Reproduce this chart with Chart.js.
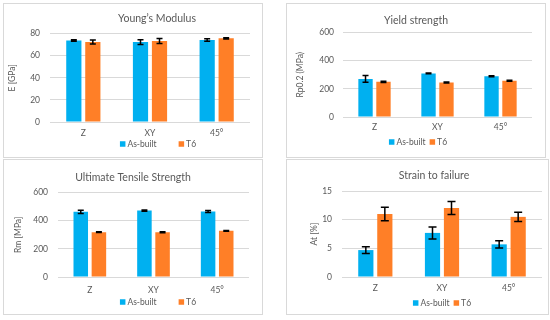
<!DOCTYPE html>
<html>
<head>
<meta charset="utf-8">
<script src="https://cdn.jsdelivr.net/npm/chart.js@4.4.1/dist/chart.umd.min.js"></script>
<style>
  body { margin: 0; background: #fff; }
  .panel { position: absolute; border: 1px solid #d9d9d9; box-sizing: border-box; background: #fff; }
  .panel canvas { display: block; }
</style>
</head>
<body>
<div class="panel" style="left:3px;top:3px;width:260px;height:155px"><canvas id="c1"></canvas></div>
<div class="panel" style="left:286px;top:3px;width:260px;height:155px"><canvas id="c2"></canvas></div>
<div class="panel" style="left:3px;top:159px;width:260px;height:156px"><canvas id="c3"></canvas></div>
<div class="panel" style="left:286px;top:159px;width:263px;height:156px"><canvas id="c4"></canvas></div>
<script>
const categories = ['Z', 'XY', '45°'];
const seriesNames = ['As-built', 'T6'];

// Young's modulus [GPa]
const modulusAsBuilt = [73.7, 72.3, 74.2];
const modulusAsBuiltErr = [0.7, 2.2, 1.2];
const modulusT6 = [72.4, 73.3, 75.7];
const modulusT6Err = [1.8, 2.3, 0.5];
const modulusTicks = [0, 20, 40, 60, 80];

// Yield strength Rp0.2 [MPa]
const yieldAsBuilt = [271, 310, 290];
const yieldAsBuiltErr = [24, 3, 3];
const yieldT6 = [250, 245, 258];
const yieldT6Err = [4, 4, 3];
const yieldTicks = [0, 200, 400, 600];

// Ultimate tensile strength Rm [MPa]
const utsAsBuilt = [463, 472, 465];
const utsAsBuiltErr = [12, 4, 7];
const utsT6 = [319, 318, 328];
const utsT6Err = [3, 3, 3];
const utsTicks = [0, 200, 400, 600];

// Strain to failure At [%]
const strainAsBuilt = [4.7, 7.7, 5.7];
const strainAsBuiltErr = [0.6, 1.05, 0.63];
const strainT6 = [11.0, 12.05, 10.5];
const strainT6Err = [1.17, 1.14, 0.82];
const strainTicks = [0, 5, 10, 15];

const BLUE = '#00b0f0';
const ORANGE = '#ff7f27';
const GRAY = '#595959';
const FONT = 'Lato, "Open Sans", sans-serif';

const errorBars = {
  id: 'errorBars',
  afterDatasetsDraw(chart, args, opts) {
    const ctx = chart.ctx;
    const y = chart.scales.y;
    ctx.save();
    ctx.strokeStyle = '#000';
    ctx.lineWidth = 1.5;
    chart.data.datasets.forEach((ds, i) => {
      const meta = chart.getDatasetMeta(i);
      meta.data.forEach((bar, j) => {
        const v = ds.data[j], e = ds.errors[j];
        const top = y.getPixelForValue(v + e);
        const bot = y.getPixelForValue(v - e);
        const w = opts.cap / 2;
        ctx.beginPath();
        ctx.moveTo(bar.x, top); ctx.lineTo(bar.x, bot);
        ctx.moveTo(bar.x - w, top); ctx.lineTo(bar.x + w, top);
        ctx.moveTo(bar.x - w, bot); ctx.lineTo(bar.x + w, bot);
        ctx.stroke();
      });
    });
    ctx.restore();
  }
};

// the title in the picture is not always centred on the panel
const titleCentre = {
  id: 'titleCentre',
  afterLayout(chart, args, opts) {
    const t = chart.titleBlock;
    t.left = opts.cx - 100;
    t.right = opts.cx + 100;
  }
};

// simple legend so the item spacing can follow the picture
const boxLegend = {
  id: 'boxLegend',
  afterDraw(chart, args, opts) {
    const ctx = chart.ctx;
    ctx.save();
    ctx.font = opts.size + 'px ' + FONT;
    ctx.textBaseline = 'middle';
    const items = chart.data.datasets.map(ds => ({ text: ds.label, color: ds.backgroundColor, w: ctx.measureText(ds.label).width }));
    let total = 0;
    items.forEach((it, i) => { total += opts.box + 2 + it.w + (i ? opts.gap : 0); });
    let x = opts.x - total / 2;
    items.forEach(it => {
      ctx.fillStyle = it.color;
      ctx.fillRect(x, opts.y - opts.box / 2, opts.box, opts.box);
      x += opts.box + 2;
      ctx.fillStyle = GRAY;
      ctx.fillText(it.text, x, opts.y + 0.5);
      x += it.w + opts.gap;
    });
    ctx.restore();
  }
};

function makeChart(id, title, yTitle, asBuilt, asBuiltErr, t6, t6Err, ticks, lay) {
  return new Chart(document.getElementById(id), {
    type: 'bar',
    data: {
      labels: categories,
      datasets: [
        { label: seriesNames[0], data: asBuilt, errors: asBuiltErr, backgroundColor: BLUE },
        { label: seriesNames[1], data: t6, errors: t6Err, backgroundColor: ORANGE }
      ]
    },
    options: {
      responsive: true,
      maintainAspectRatio: false,
      animation: false,
      categoryPercentage: 0.57,
      barPercentage: 0.8,
      layout: { padding: { left: 0, right: lay.padRight, top: 0, bottom: lay.padBottom } },
      plugins: {
        legend: { display: false },
        tooltip: { enabled: false },
        title: {
          display: true, text: title, color: GRAY,
          font: { family: FONT, size: 10.5, weight: 'normal' },
          padding: { top: lay.titleTop, bottom: lay.titleBottom }
        },
        titleCentre: { cx: lay.titleX },
        errorBars: { cap: lay.cap },
        boxLegend: { x: lay.legendX, y: lay.legendY, gap: lay.legendGap, box: 5.5, size: 8.5 }
      },
      scales: {
        x: {
          grid: { display: false, drawTicks: false },
          border: { display: false },
          ticks: { color: GRAY, font: { family: FONT, size: 8.5 }, padding: lay.xPad },
          afterFit: s => { s.height = 20; }
        },
        y: {
          min: 0,
          max: ticks[ticks.length - 1],
          afterBuildTicks: s => { s.ticks = ticks.map(v => ({ value: v })); },
          grid: { color: '#d9d9d9', drawTicks: false, lineWidth: 1 },
          border: { display: false },
          ticks: { color: GRAY, font: { family: FONT, size: 8.5 }, padding: lay.yPad },
          title: {
            display: true, text: yTitle, color: GRAY,
            font: { family: FONT, size: 8.5 }, padding: { top: lay.yTitlePad, bottom: 0 }
          },
          afterFit: s => { s.width = lay.left; }
        }
      }
    },
    plugins: [errorBars, titleCentre, boxLegend]
  });
}

makeChart('c1', 'Young’s Modulus', 'E [GPa]', modulusAsBuilt, modulusAsBuiltErr, modulusT6, modulusT6Err, modulusTicks,
  { left: 46, padRight: 12, padBottom: 15, titleTop: 8, titleBottom: 9, titleX: 153, xPad: 6, yPad: 10, yTitlePad: 3, cap: 6,
    legendX: 154, legendY: 140, legendGap: 22 });
makeChart('c2', 'Yield strength', 'Rp0.2 (MPa)', yieldAsBuilt, yieldAsBuiltErr, yieldT6, yieldT6Err, yieldTicks,
  { left: 56, padRight: 13, padBottom: 20, titleTop: 10, titleBottom: 6, titleX: 129, xPad: 5, yPad: 9, yTitlePad: 8, cap: 6,
    legendX: 131, legendY: 138, legendGap: 4 });
makeChart('c3', 'Ultimate Tensile Strength', 'Rm [MPa]', utsAsBuilt, utsAsBuiltErr, utsT6, utsT6Err, utsTicks,
  { left: 54, padRight: 13, padBottom: 17, titleTop: 11, titleBottom: 9, titleX: 129, xPad: 8, yPad: 10, yTitlePad: 9, cap: 6,
    legendX: 154, legendY: 142, legendGap: 22 });
makeChart('c4', 'Strain to failure', 'At [%]', strainAsBuilt, strainAsBuiltErr, strainT6, strainT6Err, strainTicks,
  { left: 55, padRight: 6, padBottom: 17, titleTop: 9, titleBottom: 9.5, titleX: 147, xPad: 6, yPad: 10, yTitlePad: 22, cap: 8,
    legendX: 155, legendY: 143, legendGap: 4 });
</script>
</body>
</html>
